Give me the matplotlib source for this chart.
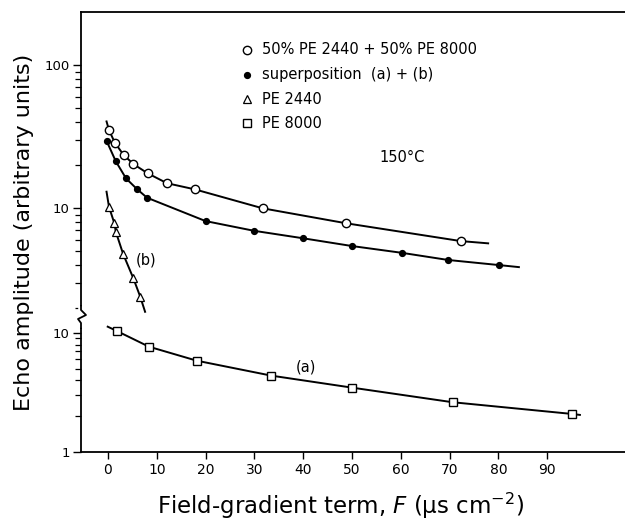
import matplotlib
matplotlib.use("Agg")
import matplotlib.pyplot as plt
from matplotlib.lines import Line2D
from matplotlib.ticker import FixedLocator, NullFormatter

# values
# 50% PE 2440 + 50% PE 8000 (open circles)
mix_F = [0.2, 1.4, 3.2, 5.2, 8.1, 12.1, 17.8, 31.7, 48.8, 72.3]
mix_A = [35.1, 28.6, 23.5, 20.3, 17.5, 14.9, 13.5, 9.95, 7.82, 5.87]
mix_line_F = [-0.3] + mix_F + [77.9]
mix_line_A = [40.3] + mix_A + [5.66]

# superposition (a) + (b) (filled dots)
sup_F = [-0.3, 1.6, 3.7, 5.9, 8.0, 20.0, 29.9, 40.0, 50.0, 60.2, 69.7, 80.1]
sup_A = [29.5, 21.2, 16.1, 13.6, 11.8, 8.1, 6.93, 6.14, 5.42, 4.86, 4.33, 3.99]
sup_line_F = sup_F + [84.2]
sup_line_A = sup_A + [3.86]

# PE 2440 (triangles), curve (b)
b_F = [0.2, 1.3, 1.6, 3.1, 5.2, 6.6]
b_A = [10.2, 7.82, 6.82, 4.77, 3.22, 2.40]
b_line_F = [-0.3] + b_F + [7.6]
b_line_A = [13.0] + b_A + [1.88]

# PE 8000 (squares), curve (a), lower panel
a_F = [1.8, 8.4, 18.2, 33.5, 50.1, 70.6, 95.0]
a_A = [10.4, 7.67, 5.85, 4.38, 3.47, 2.62, 2.09]
a_line_F = [-0.06] + a_F + [96.7]
a_line_A = [11.3] + a_A + [2.05]

legend_labels = ["50% PE 2440 + 50% PE 8000", "superposition  (a) + (b)",
                 "PE 2440", "PE 8000"]
x_ticks = [0, 10, 20, 30, 40, 50, 60, 70, 80, 90]


W, H = 625, 520
def fx(px):
    return px / W
def fy(py):
    return 1 - py / H

fig = plt.figure(figsize=(6.25, 5.2), dpi=100)
left, right = 81, 625
top, brk, bottom = 12, 317, 452
ax_up = fig.add_axes([fx(left), fy(brk), fx(right) - fx(left), fy(top) - fy(brk)])
ax_lo = fig.add_axes([fx(left), fy(bottom), fx(right) - fx(left), fy(brk) - fy(bottom)])

xlim = ((left - 108) / 4.88, (right - 108) / 4.88)
for ax in (ax_up, ax_lo):
    ax.set_yscale("log")
    ax.set_xlim(*xlim)
    ax.spines["right"].set_visible(False)
    ax.tick_params(axis="y", which="major", direction="out", length=6, width=1,
                   labelsize=9.5, pad=2)
    ax.tick_params(axis="y", which="minor", direction="out", length=4.5, width=0.9)
    for s in ax.spines.values():
        s.set_linewidth(1.3)

# upper panel: 10 at y=208 px, 100 at y=65 px
dec = 143.0
ax_up.set_ylim(10 ** (1 - (brk - 208) / dec), 10 ** (1 + (208 - top) / dec))
ax_up.spines["bottom"].set_visible(False)
ax_up.tick_params(axis="x", bottom=False, labelbottom=False)
ax_up.yaxis.set_major_locator(FixedLocator([10, 100]))
ax_up.yaxis.set_minor_locator(FixedLocator([2, 3, 4, 5, 6, 7, 8, 9,
                                            20, 30, 40, 50, 60, 70, 80, 90]))
ax_up.yaxis.set_minor_formatter(NullFormatter())
ax_up.set_yticklabels(["10", "100"])

# lower panel: 1 at y=452 px, 10 at y=333 px
dec2 = 119.0
ax_lo.set_ylim(1, 10 ** ((bottom - brk) / dec2))
ax_lo.spines["top"].set_visible(False)
ax_lo.yaxis.set_major_locator(FixedLocator([1, 10]))
ax_lo.yaxis.set_minor_locator(FixedLocator([2, 3, 4, 5, 6, 7, 8, 9]))
ax_lo.yaxis.set_minor_formatter(NullFormatter())
ax_lo.set_yticklabels(["1", "10"])
ax_lo.set_xticks(x_ticks)
ax_lo.tick_params(axis="x", direction="out", length=5, width=1, labelsize=10, pad=3)

# curves and points
ax_up.plot(mix_line_F, mix_line_A, color="black", lw=1.4, zorder=2)
ax_up.plot(mix_F, mix_A, "o", ms=6, mfc="white", mec="black", mew=1.0, zorder=3)
ax_up.plot(sup_line_F, sup_line_A, color="black", lw=1.4, zorder=2)
ax_up.plot(sup_F, sup_A, "o", ms=4.2, mfc="black", mec="black", zorder=3)
ax_up.plot(b_line_F, b_line_A, color="black", lw=1.4, zorder=2)
ax_up.plot(b_F, b_A, "^", ms=6, mfc="white", mec="black", mew=0.9, zorder=3)
ax_lo.plot(a_line_F, a_line_A, color="black", lw=1.4, zorder=2)
ax_lo.plot(a_F, a_A, "s", ms=6, mfc="white", mec="black", mew=1.0, zorder=3)

ax_up.text(5.6, 4.3, "(b)", fontsize=10.5, ha="left", va="center")
ax_lo.text(38.5, 5.2, "(a)", fontsize=10.5, ha="left", va="center")
ax_up.text(55.7, 22.7, "150°C", fontsize=10.5, ha="left", va="center")

# legend drawn by hand
markers = [dict(marker="o", ms=6, mfc="white", mec="black", mew=1.0),
           dict(marker="o", ms=4.2, mfc="black", mec="black"),
           dict(marker="^", ms=6, mfc="white", mec="black", mew=0.9),
           dict(marker="s", ms=6, mfc="white", mec="black", mew=1.0)]
rows = [50, 75, 99, 123]
for lab, mk, ry in zip(legend_labels, markers, rows):
    fig.add_artist(Line2D([fx(247)], [fy(ry)], ls="none", transform=fig.transFigure, **mk))
    fig.text(fx(262), fy(ry), lab, fontsize=10.5, ha="left", va="center")

# break mark on the y axis
fig.add_artist(Line2D([fx(81), fx(81)], [fy(309), fy(325)], color="white", lw=4,
                      transform=fig.transFigure))
fig.add_artist(Line2D([fx(81), fx(81), fx(86), fx(78), fx(81), fx(81)],
                      [fy(306), fy(310), fy(315), fy(319), fy(323), fy(328)],
                      color="black", lw=1.3, transform=fig.transFigure))

fig.text(fx(24), fy(232), "Echo amplitude (arbitrary units)", rotation=90,
         fontsize=16, ha="center", va="center")
fig.text(fx(340), fy(506), "Field-gradient term, $F$ (µs cm$^{-2}$)",
         fontsize=16.5, ha="center", va="center")

fig.savefig("out.png", dpi=100)
